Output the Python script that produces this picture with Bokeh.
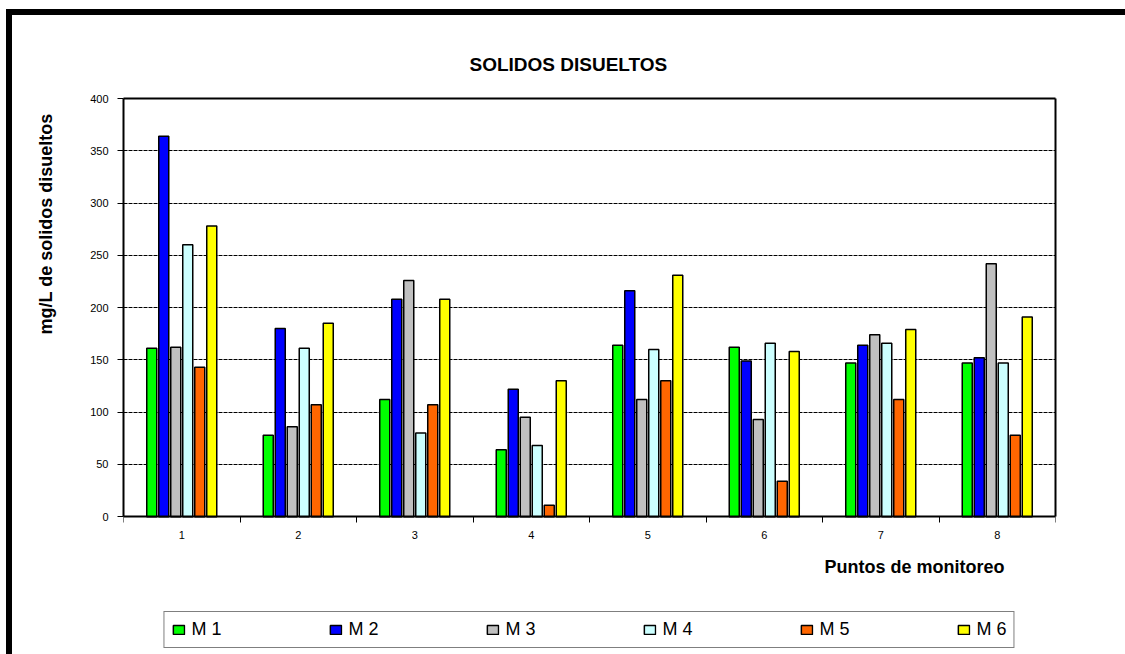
from bokeh.plotting import figure
from bokeh.models import (ColumnDataSource, FixedTicker, Range1d, Title, Legend, LegendItem,
                          LinearAxis, Label)
from bokeh.transform import dodge
from bokeh.embed import file_html
from bokeh.resources import INLINE

# ---- data ----
puntos = [1, 2, 3, 4, 5, 6, 7, 8]
series = ["M1", "M2", "M3", "M4", "M5", "M6"]
legend_labels = ["M 1", "M 2", "M 3", "M 4", "M 5", "M 6"]
M1 = [161, 78, 112, 64, 164, 162, 147, 147]
M2 = [364, 180, 208, 122, 216, 149, 164, 152]
M3 = [162, 86, 226, 95, 112, 93, 174, 242]
M4 = [260, 161, 80, 68, 160, 166, 166, 147]
M5 = [143, 107, 107, 11, 130, 34, 112, 78]
M6 = [278, 185, 208, 130, 231, 158, 179, 191]
y_ticks = [0, 50, 100, 150, 200, 250, 300, 350, 400]
colors = ["#00FF00", "#0000FF", "#C0C0C0", "#CCFFFF", "#FF6600", "#FFFF00"]

FONT = "Liberation Sans"

src = ColumnDataSource(dict(punto=puntos, M1=M1, M2=M2, M3=M3, M4=M4, M5=M5, M6=M6))

# the frame reaches down to the legend box; the value axis itself spans 0..400
p = figure(width=1125, height=654, output_backend="svg", toolbar_location=None,
           x_range=Range1d(0.5, 8.5), y_range=Range1d(-128, 400),
           min_border_left=123, min_border_right=70, min_border_top=98, min_border_bottom=4)
p.border_fill_color = None
p.background_fill_color = "white"
p.outline_line_color = None
p.styles = {"background": "linear-gradient(#000,#000) 6px 9px / 6px 100% no-repeat, "
                          "linear-gradient(#000,#000) 6px 9px / 100% 6px no-repeat, #fff"}

p.title.text = "SOLIDOS DISUELTOS"
p.title.text_font = FONT
p.title.text_font_size = "19px"
p.title.text_font_style = "bold"
p.title.text_color = "black"
p.title.align = "left"
p.title.offset = 346
p.title.standoff = 47

pitch = 0.103
renderers = []
for i, s in enumerate(series):
    r = p.vbar(x=dodge("punto", (i - 2.5) * pitch, range=p.x_range), top=s, width=0.086,
               source=src, fill_color=colors[i], line_color="black", line_width=1.5)
    renderers.append(r)

# x axis, drawn at value 0
xax = p.xaxis[0]
xax.fixed_location = 0
xax.ticker = FixedTicker(ticks=puntos, minor_ticks=[x - 0.5 for x in puntos] + [8.5])
xax.major_tick_line_color = None
xax.major_tick_out = 6
xax.major_tick_in = 0
xax.minor_tick_line_color = "black"
xax.minor_tick_out = 6
xax.minor_tick_in = 0
xax.minor_tick_line_width = 1
xax.axis_line_width = 2
xax.major_label_text_font = FONT
xax.major_label_text_font_size = "11px"
xax.major_label_text_color = "black"
xax.major_label_standoff = 8

# y axis
yax = p.yaxis[0]
yax.bounds = (0, 400)
yax.ticker = FixedTicker(ticks=y_ticks)
yax.minor_tick_line_color = None
yax.major_tick_in = 0
yax.major_tick_out = 6
yax.major_tick_line_color = "black"
yax.axis_line_width = 2
yax.major_label_text_font = FONT
yax.major_label_text_font_size = "11px"
yax.major_label_text_color = "black"
yax.major_label_standoff = 9

# plot-area border on top and right
top_border = LinearAxis(ticker=FixedTicker(ticks=[]), axis_line_width=2,
                        major_tick_out=0, major_tick_in=0, minor_tick_out=0, minor_tick_in=0,
                        major_label_standoff=0)
p.add_layout(top_border, "above")
right_border = LinearAxis(ticker=FixedTicker(ticks=[]), bounds=(0, 400), axis_line_width=2,
                          major_tick_out=0, major_tick_in=0, minor_tick_out=0, minor_tick_in=0,
                          major_label_standoff=0)
p.add_layout(right_border, "right")

p.xgrid.visible = False
p.ygrid.grid_line_color = "black"
p.ygrid.grid_line_dash = "4 1"
p.ygrid.grid_line_width = 1

ylab = Title(text="mg/L de solidos disueltos", align="right", offset=15, standoff=64,
             text_font=FONT, text_font_size="18px", text_font_style="bold", text_color="black")
p.add_layout(ylab, "left")

xlab = Label(x=7.29, y=-48, text="Puntos de monitoreo", text_align="center",
             text_baseline="middle", text_font=FONT, text_font_size="18px",
             text_font_style="bold", text_color="black")
p.add_layout(xlab)

items = [LegendItem(label=legend_labels[i], renderers=[renderers[i]]) for i in range(len(series))]
leg = Legend(items=items, orientation="horizontal", location="bottom_center", spacing=107,
             padding=7, margin=2, border_line_color="black", border_line_width=1.5,
             background_fill_color="white", background_fill_alpha=1,
             glyph_width=14, glyph_height=11, label_standoff=6,
             label_text_font=FONT, label_text_font_size="18px", label_text_color="black")
p.add_layout(leg)

open("out.html", "w").write(file_html(p, INLINE))
